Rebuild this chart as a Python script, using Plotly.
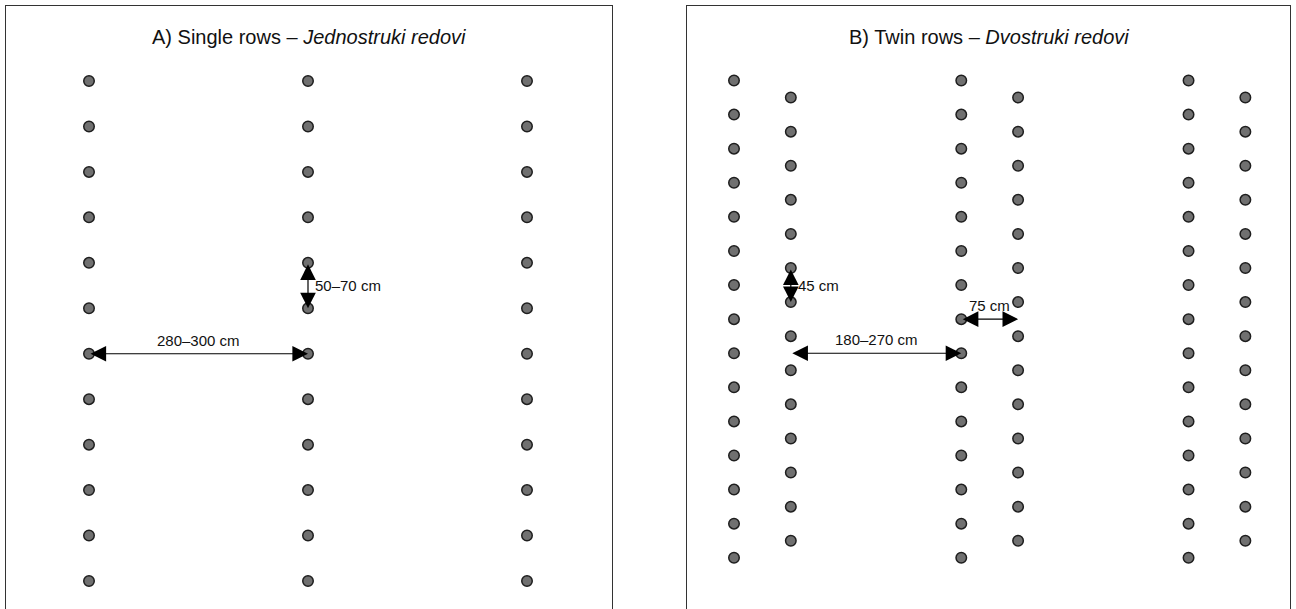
import plotly.graph_objects as go

# ---- data (positions in cm) ----
single_rows_x = [0, 290, 580]
single_plants_y = [0, 60, 120, 180, 240, 300, 360, 420, 480, 540, 600, 660]

twin_rows_a_x = [0, 300, 600]
twin_rows_b_x = [75, 375, 675]
twin_plants_a_y = [0, 45, 90, 135, 180, 225, 270, 315, 360, 405, 450, 495, 540, 585, 630]
twin_plants_b_y = [22.5, 67.5, 112.5, 157.5, 202.5, 247.5, 292.5, 337.5, 382.5,
                   427.5, 472.5, 517.5, 562.5, 607.5]

titles = ["A) Single rows – <i>Jednostruki redovi</i>",
          "B) Twin rows – <i>Dvostruki redovi</i>"]
labels = ["280–300 cm", "50–70 cm", "45 cm", "75 cm", "180–270 cm"]

FONT = "Liberation Sans, Arial, sans-serif"
W, H = 1296, 609

marker = dict(size=10.5, color="#707070", line=dict(color="#1e1e1e", width=1.5))

fig = go.Figure()
for x in single_rows_x:
    fig.add_trace(go.Scatter(x=[x] * len(single_plants_y), y=single_plants_y,
                             mode="markers", marker=marker, xaxis="x", yaxis="y",
                             hoverinfo="skip"))
for x in twin_rows_a_x:
    fig.add_trace(go.Scatter(x=[x] * len(twin_plants_a_y), y=twin_plants_a_y,
                             mode="markers", marker=marker, xaxis="x2", yaxis="y2",
                             hoverinfo="skip"))
for x in twin_rows_b_x:
    fig.add_trace(go.Scatter(x=[x] * len(twin_plants_b_y), y=twin_plants_b_y,
                             mode="markers", marker=marker, xaxis="x2", yaxis="y2",
                             hoverinfo="skip"))

ax_common = dict(showgrid=False, zeroline=False, showticklabels=False, ticks="",
                 showline=True, linecolor="#333333", linewidth=1.3, fixedrange=True)
ytop = 1 - 6 / H

def arrow(xr, yr, x0, y0, x1, y1):
    return dict(xref=xr, yref=yr, axref=xr, ayref=yr, x=x1, y=y1, ax=x0, ay=y0,
                text="", showarrow=True, arrowhead=2, startarrowhead=2,
                arrowside="end+start", arrowsize=2.6, startarrowsize=2.6,
                arrowwidth=1.2, arrowcolor="black")

def label(xr, yr, x, y, text, xanchor="center", yanchor="bottom", xshift=0, yshift=0):
    return dict(xref=xr, yref=yr, x=x, y=y, text=text, showarrow=False,
                xanchor=xanchor, yanchor=yanchor, xshift=xshift, yshift=yshift,
                font=dict(family=FONT, size=15, color="#111111"))

sy = single_plants_y
annotations = [
    # titles
    dict(xref="paper", yref="paper", x=(6 + 612) / 2 / W, y=1 - 37 / H, text=titles[0],
         showarrow=False, xanchor="center", yanchor="middle",
         font=dict(family=FONT, size=20, color="#111111")),
    dict(xref="paper", yref="paper", x=(687 + 1290) / 2 / W, y=1 - 37 / H, text=titles[1],
         showarrow=False, xanchor="center", yanchor="middle",
         font=dict(family=FONT, size=20, color="#111111")),
    # panel A
    arrow("x", "y", single_rows_x[0], sy[6], single_rows_x[1], sy[6]),
    label("x", "y", (single_rows_x[0] + single_rows_x[1]) / 2, sy[6], labels[0], yshift=3),
    arrow("x", "y", single_rows_x[1], sy[4], single_rows_x[1], sy[5]),
    label("x", "y", single_rows_x[1], (sy[4] + sy[5]) / 2, labels[1],
          xanchor="left", yanchor="middle", xshift=5),
    # panel B
    arrow("x2", "y2", twin_rows_b_x[0], twin_plants_b_y[5], twin_rows_b_x[0], twin_plants_b_y[6]),
    label("x2", "y2", twin_rows_b_x[0], (twin_plants_b_y[5] + twin_plants_b_y[6]) / 2, labels[2],
          xanchor="left", yanchor="middle", xshift=5),
    arrow("x2", "y2", twin_rows_a_x[1], twin_plants_a_y[7], twin_rows_b_x[1], twin_plants_a_y[7]),
    label("x2", "y2", (twin_rows_a_x[1] + twin_rows_b_x[1]) / 2, twin_plants_a_y[7], labels[3], yshift=3),
    arrow("x2", "y2", twin_rows_b_x[0], twin_plants_a_y[8], twin_rows_a_x[1], twin_plants_a_y[8]),
    label("x2", "y2", (twin_rows_b_x[0] + twin_rows_a_x[1]) / 2, twin_plants_a_y[8], labels[4], yshift=3),
]

fig.update_layout(
    width=W, height=H, autosize=False,
    margin=dict(l=0, r=0, t=0, b=0, pad=0),
    paper_bgcolor="white", plot_bgcolor="white",
    showlegend=False,
    xaxis=dict(domain=[6 / W, 612 / W], range=[(6 - 89) * 1.3242, (612 - 89) * 1.3242],
               side="top", anchor="y", **ax_common),
    yaxis=dict(domain=[0, ytop], range=[(609 - 81) * 1.32, (6 - 81) * 1.32],
               mirror=True, anchor="x", **ax_common),
    xaxis2=dict(domain=[687 / W, 1290 / W], range=[(687 - 734) * 1.32, (1290 - 734) * 1.32],
                side="top", anchor="y2", **ax_common),
    yaxis2=dict(domain=[0, ytop], range=[(609 - 80.5) * 1.32, (6 - 80.5) * 1.32],
                mirror=True, anchor="x2", **ax_common),
    annotations=annotations,
)

fig.write_html("out.html", config={"displayModeBar": False},
               post_script="document.body.style.margin='0';document.body.style.overflow='hidden';")
